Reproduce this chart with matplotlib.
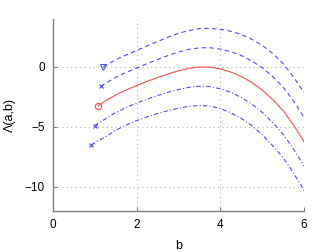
import matplotlib
matplotlib.use("Agg")
import matplotlib.pyplot as plt

# Data
b_top = [1.20, 1.25, 1.5, 1.75, 2.0, 2.25, 2.5, 2.75, 3.0, 3.25, 3.5, 3.75, 4.0, 4.25, 4.5, 4.75, 5.0, 5.25, 5.5, 5.75, 6.0]
y_top = [0.00, 0.10, 0.61, 1.00, 1.37, 1.76, 2.12, 2.48, 2.80, 3.04, 3.19, 3.22, 3.13, 2.97, 2.70, 2.30, 1.79, 1.12, 0.27, -0.85, -2.15]

b_up = [1.14, 1.25, 1.5, 1.75, 2.0, 2.25, 2.5, 2.75, 3.0, 3.25, 3.5, 3.75, 4.0, 4.25, 4.5, 4.75, 5.0, 5.25, 5.5, 5.75, 6.0]
y_up = [-1.63, -1.38, -0.86, -0.46, -0.09, 0.28, 0.62, 0.95, 1.24, 1.46, 1.59, 1.60, 1.48, 1.27, 0.95, 0.50, -0.07, -0.80, -1.69, -2.85, -4.22]

b_mid = [1.08, 1.25, 1.5, 1.75, 2.0, 2.25, 2.5, 2.75, 3.0, 3.25, 3.5, 3.75, 4.0, 4.25, 4.5, 4.75, 5.0, 5.25, 5.5, 5.75, 6.0]
y_mid = [-3.25, -2.83, -2.33, -1.92, -1.55, -1.20, -0.88, -0.58, -0.32, -0.12, -0.01, -0.02, -0.17, -0.43, -0.80, -1.30, -1.93, -2.72, -3.65, -4.85, -6.25]

b_low = [0.99, 1.25, 1.5, 1.75, 2.0, 2.25, 2.5, 2.75, 3.0, 3.25, 3.5, 3.75, 4.0, 4.25, 4.5, 4.75, 5.0, 5.25, 5.5, 5.75, 6.0]
y_low = [-4.90, -4.33, -3.80, -3.38, -3.01, -2.68, -2.38, -2.11, -1.88, -1.70, -1.61, -1.64, -1.82, -2.13, -2.55, -3.10, -3.79, -4.64, -5.61, -6.85, -8.28]

b_bot = [0.91, 1.25, 1.5, 1.75, 2.0, 2.25, 2.5, 2.75, 3.0, 3.25, 3.5, 3.75, 4.0, 4.25, 4.5, 4.75, 5.0, 5.25, 5.5, 5.75, 6.0]
y_bot = [-6.50, -5.83, -5.27, -4.84, -4.47, -4.16, -3.88, -3.64, -3.44, -3.28, -3.21, -3.26, -3.47, -3.83, -4.30, -4.90, -5.65, -6.56, -7.57, -8.85, -10.31]

x_ticks = [0, 2, 4, 6]
y_ticks = [0, -5, -10]

plt.rcParams['font.family'] = ['Liberation Sans', 'DejaVu Sans']

fig = plt.figure(figsize=(3.36, 2.52), dpi=100)
ax = fig.add_axes([0.158, 0.163, 0.747, 0.762])

blue = (0.3, 0.3, 1.0)
red = (1.0, 0.3, 0.3)
lw = 0.8
dash = (0, (4, 3))
dashdot = (0, (4, 2, 1, 2))

ax.plot(b_top, y_top, color=blue, ls=dash, lw=lw)
ax.plot(b_top[0], y_top[0], marker='v', color=blue, ms=5, mfc='none', mew=0.8)
ax.plot(b_up, y_up, color=blue, ls=dash, lw=lw)
ax.plot(b_up[0], y_up[0], marker='x', color=blue, ms=3.5, mew=0.8)
ax.plot(b_mid, y_mid, color=red, ls='-', lw=lw)
ax.plot(b_mid[0], y_mid[0], marker='o', color=red, ms=4.5, mfc='none', mew=0.8)
ax.plot(b_low, y_low, color=blue, ls=dashdot, lw=lw)
ax.plot(b_low[0], y_low[0], marker='x', color=blue, ms=3.5, mew=0.8)
ax.plot(b_bot, y_bot, color=blue, ls=dashdot, lw=lw)
ax.plot(b_bot[0], y_bot[0], marker='x', color=blue, ms=3.5, mew=0.8)

ax.set_xlim(0, 6)
ax.set_ylim(-12, 4)
ax.set_xticks(x_ticks)
ax.set_yticks(y_ticks)
ax.grid(True, ls=(0, (1, 3)), color='#b0b0b0', lw=0.8)
for s in ['top', 'right']:
    ax.spines[s].set_visible(False)
for s in ['left', 'bottom']:
    ax.spines[s].set_color('#808080')
    ax.spines[s].set_linewidth(1.0)
ax.tick_params(direction='in', length=3, color='#808080', labelsize=8.5, pad=6)
ax.set_xlabel('b', fontsize=9, labelpad=6)
ax.set_ylabel('Λ(a,b)', fontsize=9, labelpad=6)

fig.savefig('out.png', dpi=100)
